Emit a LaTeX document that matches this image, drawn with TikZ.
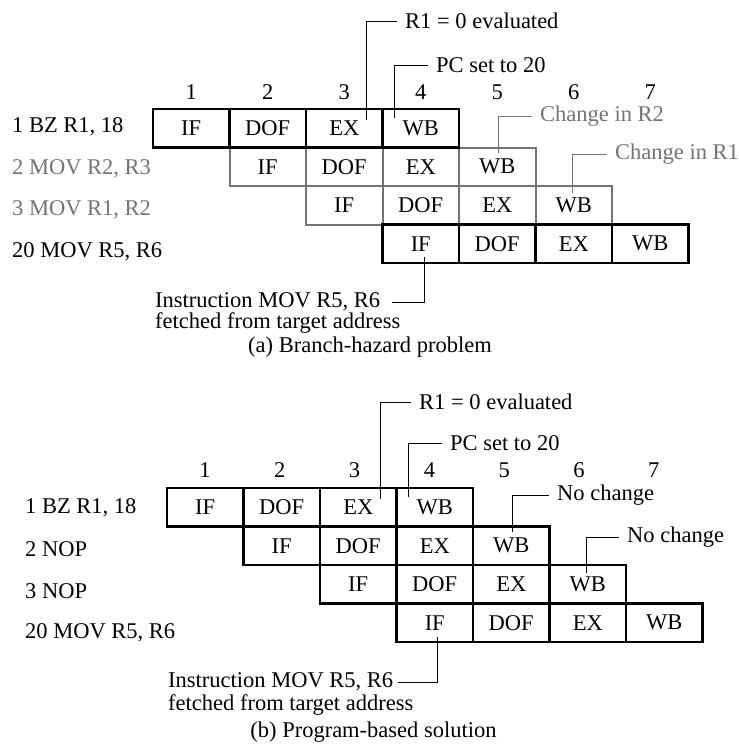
\documentclass[tikz,border=0pt]{standalone}
\usepackage{fontspec}
\setmainfont{Liberation Serif}

\begin{document}
\begin{tikzpicture}[x=1pt,y=-1pt,
  font=\fontsize{22.5}{27}\selectfont,
  stage/.style={draw,line width=2.5pt,minimum width=76.5pt,minimum height=38.5pt,inner sep=0pt},
  faded/.style={draw=black!55,line width=2pt},
  dark/.style={draw=black},
  lbl/.style={anchor=west,inner sep=0pt},
  note/.style={anchor=west,inner xsep=8pt,inner ysep=0pt},
  lead/.style={line width=1pt}]
  \useasboundingbox (0,0) rectangle (739,745);

  % (a) branch hazard
  \foreach \c in {1,...,7}
    \node (na\c) at ({191.25+76.5*(\c-1)},92) {\c};
  \foreach \r/\s/\sty in {2/2/faded,3/3/faded,1/1/dark,4/4/dark}
    \foreach \st [count=\k] in {IF,DOF,EX,WB}
      \node[stage,\sty] (a-\r-\k) at ({191.25+76.5*(\s+\k-2)},{128.25+38.5*(\r-1)}) {\st};
  \node[lbl] (la1) at (12,127) {1 BZ R1, 18};
  \node[lbl,text=black!55] (la2) at (12,168.5) {2 MOV R2, R3};
  \node[lbl,text=black!55] (la3) at (12,210) {3 MOV R1, R2};
  \node[lbl] (la4) at (12,251.5) {20 MOV R5, R6};

  \coordinate (ra) at (366,120);
  \coordinate (pa) at (394,118);
  \coordinate (ca2) at (498,153);
  \coordinate (ca1) at (572,193);
  \coordinate (ia) at (424,257);
  \node[note] (ra-t) at (397,21) {R1 = 0 evaluated};
  \node[note] (pa-t) at (428,65) {PC set to 20};
  \node[note,text=black!55] (ca2-t) at (532,116) {Change in R2};
  \node[note,text=black!55] (ca1-t) at (607,154) {Change in R1};
  \draw[lead] (ra) |- (ra-t);
  \draw[lead] (pa) |- (pa-t);
  \draw[lead,black!55] (ca2) |- (ca2-t);
  \draw[lead,black!55] (ca1) |- (ca1-t);
  \node[lbl] (ia-t) at (155,302) {Instruction MOV R5, R6};
  \node[lbl] (ia-u) at (155,323) {fetched from target address};
  \draw[lead] (ia) |- ([xshift=12pt]ia-t.east);
  \node (cap-a) at (370,347) {(a) Branch-hazard problem};

  % (b) program-based solution
  \foreach \c in {1,...,7}
    \node (nb\c) at ({205+74.8*(\c-1)},470) {\c};
  \foreach \r/\s in {1/1,2/2,3/3,4/4}
    \foreach \st [count=\k] in {IF,DOF,EX,WB}
      \node[stage] (b-\r-\k) at ({205.25+76.5*(\s+\k-2)},{507.25+38.5*(\r-1)}) {\st};
  \node[lbl] (lb1) at (25,508) {1 BZ R1, 18};
  \node[lbl] (lb2) at (25,549.5) {2 NOP};
  \node[lbl] (lb3) at (25,591) {3 NOP};
  \node[lbl] (lb4) at (25,632.5) {20 MOV R5, R6};

  \coordinate (rb) at (380,499);
  \coordinate (pb) at (408,497);
  \coordinate (cb2) at (512,532);
  \coordinate (cb1) at (586,573);
  \coordinate (ib) at (437,637);
  \node[note] (rb-t) at (411,402) {R1 = 0 evaluated};
  \node[note] (pb-t) at (442,443) {PC set to 20};
  \node[note] (cb2-t) at (549,495) {No change};
  \node[note] (cb1-t) at (619,537) {No change};
  \draw[lead] (rb) |- (rb-t);
  \draw[lead] (pb) |- (pb-t);
  \draw[lead] (cb2) |- (cb2-t);
  \draw[lead] (cb1) |- (cb1-t);
  \node[lbl] (ib-t) at (168,682) {Instruction MOV R5, R6};
  \node[lbl] (ib-u) at (168,705) {fetched from target address};
  \draw[lead] (ib) |- ([xshift=5pt]ib-t.east);
  \node[inner sep=1pt] (cap-b) at (373.5,732) {(b) Program-based solution};
\end{tikzpicture}
\end{document}
